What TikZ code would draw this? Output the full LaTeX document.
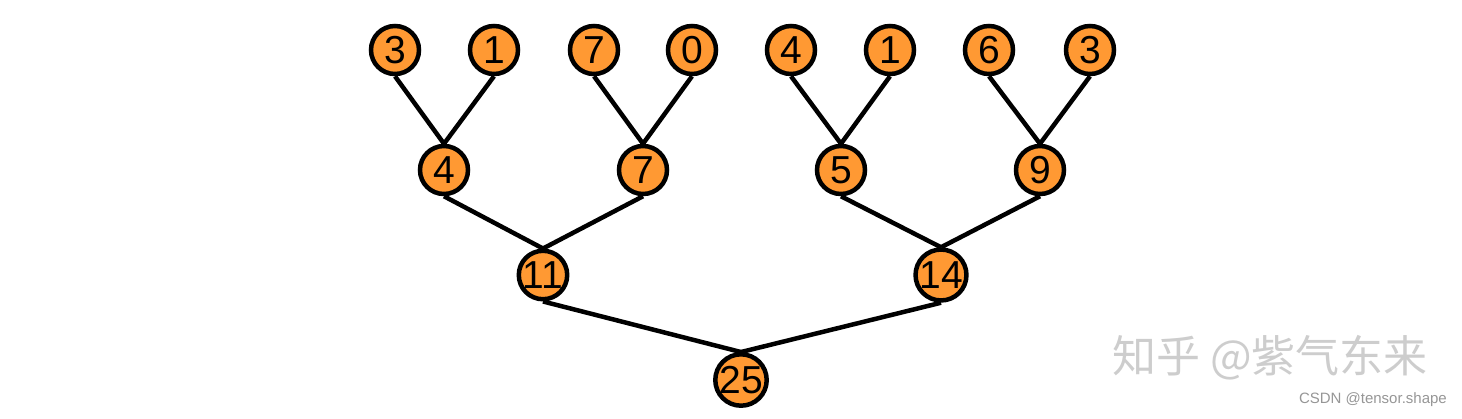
\documentclass[tikz,border=0pt]{standalone}
\usepackage{fontspec}
\setmainfont{Liberation Sans}
\newfontfamily\cjk{Noto Sans CJK SC}
\definecolor{nodeorange}{RGB}{255,153,51}
\definecolor{wmgray}{RGB}{205,205,205}
\definecolor{csdngray}{RGB}{150,150,150}
\begin{document}
\begin{tikzpicture}[x=1pt,y=-1pt,
  tnode/.style={circle,draw=black,line width=4.5pt,fill=nodeorange,minimum size=48pt,inner sep=0pt,font=\fontsize{39}{39}\selectfont},
  edge/.style={line width=4.5pt}]
\useasboundingbox (0,0) rectangle (1462,418);
% leaves
\node[tnode] (a1) at (395,50) {3};
\node[tnode] (a2) at (494,50) {1};
\node[tnode] (a3) at (594,50) {7};
\node[tnode] (a4) at (692,50) {0};
\node[tnode] (a5) at (791,50) {4};
\node[tnode] (a6) at (890,50) {1};
\node[tnode] (a7) at (989,50) {6};
\node[tnode] (a8) at (1090,50) {3};
% level 2
\node[tnode] (b1) at (444,170) {4};
\node[tnode] (b2) at (643,170) {7};
\node[tnode] (b3) at (841,170) {5};
\node[tnode] (b4) at (1040,170) {9};
% level 3
\node[tnode] (c1) at (543,275) {11};
\node[tnode] (c2) at (941,275) {14};
% root
\node[tnode] (d1) at (741,380) {25};
% edges
\foreach \p/\c in {a1/b1,a2/b1,a3/b2,a4/b2,a5/b3,a6/b3,a7/b4,a8/b4,b1/c1,b2/c1,b3/c2,b4/c2,c1/d1,c2/d1}
  \draw[edge] (\p.south) -- (\c.north);
% watermark
\node[anchor=west,text=wmgray,font=\cjk\fontsize{44}{44}\selectfont,inner sep=0pt] (wm) at (1112,358) {知乎 @紫气东来};
\node[anchor=east,text=csdngray,font=\fontsize{15}{15}\selectfont,inner sep=0pt] (cs) at (1447,400) {CSDN @tensor.shape};
\end{tikzpicture}
\end{document}
